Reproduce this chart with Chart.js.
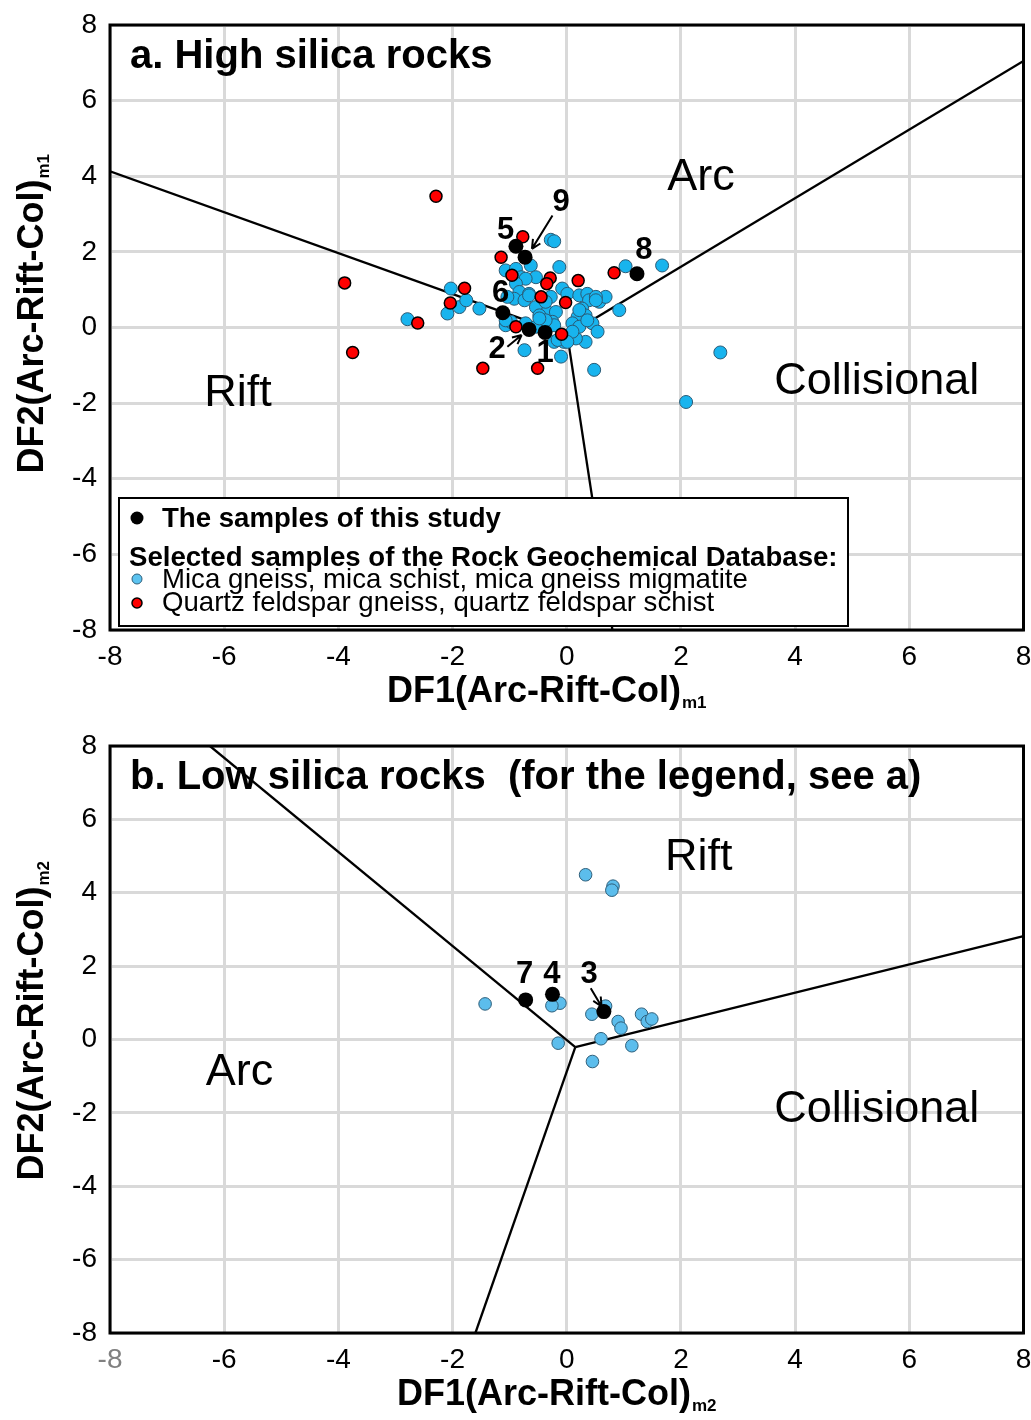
<!DOCTYPE html>
<html>
<head>
<meta charset="utf-8">
<script src="https://cdn.jsdelivr.net/npm/chart.js@4.4.0/dist/chart.umd.min.js"></script>
<style>
  html, body { margin: 0; padding: 0; background: #fff; }
  canvas { display: block; }
</style>
</head>
<body>
<canvas id="chartA" width="1031" height="712"></canvas>
<canvas id="chartB" width="1031" height="708"></canvas>
<script>
// ---- shared axis ticks ----
const tickValues = [-8, -6, -4, -2, 0, 2, 4, 6, 8];

// ---- panel a: high silica rocks ----
const aSamples = [[-0.89, 2.15], [-0.73, 1.86], [1.23, 1.42], [-1.12, 0.39], [-0.66, -0.05], [-0.38, -0.13]];
const aSampleNames = ['5', '9', '8', '6', '2', '1'];
const aMica = [
  [-0.28, 2.32], [-0.22, 2.28], [-0.13, 1.60], [1.03, 1.62], [1.67, 1.64], [-0.63, 1.64], [-1.07, 1.51],
  [-0.89, 1.55], [-0.80, 1.33], [-0.54, 1.33], [-0.72, 1.29], [-0.89, 1.16], [-0.83, 0.94], [-0.92, 0.76],
  [-0.66, 0.89], [-0.28, 0.81], [-0.08, 1.03], [0.01, 0.89], [0.22, 0.85], [0.36, 0.89], [0.39, 0.72],
  [0.57, 0.68], [0.68, 0.81], [0.92, 0.46], [0.27, 0.50], [0.33, 0.32], [0.19, 0.28], [0.10, 0.11],
  [0.45, 0.11], [0.54, -0.11], [0.33, -0.38], [0.16, -0.29], [0.48, -1.12], [-0.10, -0.77], [-0.22, -0.38],
  [-0.05, -0.38], [-0.74, -0.60], [-0.54, 0.54], [-0.34, 0.41], [-0.48, 0.32], [-0.19, 0.41], [-0.25, 0.15],
  [-1.07, 0.06], [-0.98, 0.15], [-0.22, 0.06], [-0.37, 0.68], [-1.53, 0.50], [-1.88, 0.54], [-2.03, 1.03],
  [-1.76, 0.72], [-2.09, 0.37], [-2.79, 0.22], [-1.04, 0.81], [2.69, -0.66], [2.09, -1.97],
  [0.51, 0.81], [0.22, 0.46], [0.51, 0.72], [0.22, 0.02], [0.36, 0.19], [0.10, -0.11], [-0.16, -0.33],
  [0.01, -0.38], [-1.07, 0.19], [-0.72, 0.11], [-0.54, 0.02], [-0.37, 0.19], [-0.74, 0.72], [-0.48, 0.24],
  [-0.66, 0.85]
];
const aQuartz = [
  [-2.29, 3.47], [-0.77, 2.40], [-1.15, 1.86], [-0.96, 1.38], [-0.29, 1.31], [-0.35, 1.16], [0.20, 1.24],
  [0.83, 1.45], [-1.79, 1.04], [-2.04, 0.65], [-0.45, 0.81], [-0.02, 0.66], [-2.61, 0.12], [-0.89, 0.02],
  [-0.09, -0.18], [-1.47, -1.08], [-0.51, -1.08], [-3.89, 1.18], [-3.75, -0.66]
];
// field boundaries, panel a
const aBoundLeft = [[-8, 4.13], [0.01, -0.2]];
const aBoundRight = [[0.01, -0.2], [8, 7.05]];
const aBoundDown = [[0.01, -0.2], [0.8, -8]];

// ---- panel b: low silica rocks ----
const bSamples = [[-0.72, 1.08], [-0.25, 1.23], [0.65, 0.76]];
const bSampleNames = ['7', '4', '3'];
const bMica = [
  [0.33, 4.49], [0.81, 4.18], [0.79, 4.07], [-1.43, 0.97], [-0.12, 0.99], [-0.26, 0.92], [0.68, 0.91],
  [0.44, 0.69], [0.90, 0.49], [0.95, 0.31], [1.31, 0.69], [1.41, 0.49], [1.49, 0.56], [0.60, 0.02],
  [-0.15, -0.10], [1.14, -0.17], [0.45, -0.60]
];
const bBoundUp = [[-6.25, 8], [0.15, -0.21]];
const bBoundDown = [[0.15, -0.21], [-1.60, -8]];
const bBoundRight = [[0.15, -0.21], [8, 2.82]];

// ---- annotation layout (text placed in data units) ----
const FONT = "'Liberation Sans', Arial, Helvetica, sans-serif";
const aRegions = [{ text: 'Arc', x: 2.35, y: 3.97 }, { text: 'Rift', x: -5.76, y: -1.74 }, { text: 'Collisional', x: 5.43, y: -1.42 }];
const bRegions = [{ text: 'Rift', x: 2.31, y: 4.95 }, { text: 'Arc', x: -5.73, y: -0.91 }, { text: 'Collisional', x: 5.43, y: -1.92 }];
const aLabelPos = [[-1.07, 2.56], [-0.10, 3.30], [1.35, 2.03], [-1.16, 0.89], [-1.22, -0.59], [-0.38, -0.69]];
const bLabelPos = [[-0.74, 1.76], [-0.26, 1.76], [0.39, 1.76]];
const aArrows = [[[-0.25, 2.96], [-0.61, 2.08]], [[-1.04, -0.51], [-0.79, -0.20]]];
const bArrows = [[[0.42, 1.40], [0.61, 0.90]]];

const toXY = arr => arr.map(p => ({ x: p[0], y: p[1] }));

function boundary(pts) {
  return {
    data: toXY(pts), showLine: true, borderColor: '#000', borderWidth: 2.3,
    pointRadius: 0, fill: false, order: 5
  };
}

function drawArrow(ctx, x1, y1, x2, y2) {
  const ang = Math.atan2(y2 - y1, x2 - x1);
  ctx.beginPath();
  ctx.moveTo(x1, y1);
  ctx.lineTo(x2, y2);
  ctx.moveTo(x2, y2);
  ctx.lineTo(x2 - 10 * Math.cos(ang - 0.45), y2 - 10 * Math.sin(ang - 0.45));
  ctx.moveTo(x2, y2);
  ctx.lineTo(x2 - 10 * Math.cos(ang + 0.45), y2 - 10 * Math.sin(ang + 0.45));
  ctx.stroke();
}

function drawAxisTitle(ctx, main, sub, px, py, rotate) {
  ctx.save();
  ctx.translate(px, py);
  if (rotate) ctx.rotate(-Math.PI / 2);
  ctx.textAlign = 'left';
  ctx.textBaseline = 'alphabetic';
  ctx.font = 'bold 36px ' + FONT;
  ctx.fillText(main, 0, 0);
  const w = ctx.measureText(main).width;
  ctx.font = 'bold 17px ' + FONT;
  ctx.fillText(sub, w + 1, 6);
  ctx.restore();
}

function drawLegend(ctx, a) {
  const L = a.left + 9, T = a.bottom - 132, R = 848, B = a.bottom - 4;
  ctx.fillStyle = '#fff';
  ctx.fillRect(L, T, R - L, B - T);
  ctx.strokeStyle = '#000';
  ctx.lineWidth = 2;
  ctx.strokeRect(L, T, R - L, B - T);
  const dot = (cx, cy, r, fill, stroke, lw) => {
    ctx.beginPath();
    ctx.arc(cx, cy, r, 0, Math.PI * 2);
    ctx.fillStyle = fill;
    ctx.fill();
    if (stroke) { ctx.lineWidth = lw; ctx.strokeStyle = stroke; ctx.stroke(); }
  };
  dot(L + 18, T + 20, 6.5, '#000');
  dot(L + 18, T + 81, 5, '#5cc3f0', '#2f5f7a', 1);
  dot(L + 18, T + 105, 5, '#ff0000', '#000', 1.5);
  ctx.fillStyle = '#000';
  ctx.textAlign = 'left';
  ctx.textBaseline = 'alphabetic';
  ctx.font = 'bold 27.6px ' + FONT;
  ctx.fillText('The samples of this study', L + 43, T + 29);
  ctx.fillText('Selected samples of the Rock Geochemical Database:', L + 10, T + 68);
  ctx.font = '27.6px ' + FONT;
  ctx.fillText('Mica gneiss, mica schist, mica gneiss migmatite', L + 43, T + 90);
  ctx.fillText('Quartz feldspar gneiss, quartz feldspar schist', L + 43, T + 113);
}

const decorPlugin = {
  id: 'decor',
  afterDatasetsDraw(chart) {
    const { ctx, chartArea: a, scales: { x, y } } = chart;
    const p = chart.options.plugins.decor;
    ctx.save();
    ctx.fillStyle = '#000';
    ctx.strokeStyle = '#000';

    // panel title
    ctx.font = 'bold 40px ' + FONT;
    ctx.textAlign = 'left';
    ctx.textBaseline = 'alphabetic';
    ctx.fillText(p.title, a.left + 20, a.top + 43);

    // field names
    ctx.font = '45px ' + FONT;
    ctx.textAlign = 'center';
    ctx.textBaseline = 'middle';
    p.regions.forEach(r => ctx.fillText(r.text, x.getPixelForValue(r.x), y.getPixelForValue(r.y)));

    // sample numbers and arrows
    ctx.font = 'bold 31px ' + FONT;
    p.names.forEach((t, i) => ctx.fillText(t, x.getPixelForValue(p.labelPos[i][0]), y.getPixelForValue(p.labelPos[i][1])));
    ctx.lineWidth = 2;
    p.arrows.forEach(ar => drawArrow(ctx,
      x.getPixelForValue(ar[0][0]), y.getPixelForValue(ar[0][1]),
      x.getPixelForValue(ar[1][0]), y.getPixelForValue(ar[1][1])));

    if (p.legend) drawLegend(ctx, a);

    // frame
    ctx.strokeStyle = '#000';
    ctx.lineWidth = 3;
    ctx.strokeRect(a.left, a.top, a.right - a.left, a.bottom - a.top);

    // axis titles
    ctx.fillStyle = '#000';
    const cy = (a.top + a.bottom) / 2;
    drawAxisTitle(ctx, 'DF1(Arc-Rift-Col)', p.sub, a.left + p.xTitleOffset, a.bottom + 72, false);
    drawAxisTitle(ctx, 'DF2(Arc-Rift-Col)', p.sub, 43, cy + p.yTitleOffset, true);
    ctx.restore();
  }
};

function scales(xAxisHeight) {
  const grid = { color: '#d9d9d9', lineWidth: 3, drawTicks: false };
  const font = { family: FONT, size: 28 };
  return {
    x: {
      type: 'linear', min: -8, max: 8,
      afterBuildTicks: s => { s.ticks = tickValues.map(v => ({ value: v })); },
      ticks: { font, color: c => (c.index === 0 && xAxisHeight > 84 ? '#808080' : '#000'), padding: 10, maxRotation: 0, autoSkip: false },
      grid, border: { display: false },
      afterFit: s => { s.height = xAxisHeight; s.paddingLeft = 0; s.paddingRight = 0; }
    },
    y: {
      type: 'linear', min: -8, max: 8,
      afterBuildTicks: s => { s.ticks = tickValues.map(v => ({ value: v })); },
      ticks: { font, color: '#000', padding: 13 },
      grid, border: { display: false },
      afterFit: s => { s.width = 110; s.paddingTop = 0; s.paddingBottom = 0; }
    }
  };
}

const pointBlack = { backgroundColor: '#000', borderColor: '#000', borderWidth: 0, pointRadius: 7.5, order: 0 };

// ---- chart a ----
new Chart(document.getElementById('chartA'), {
  type: 'scatter',
  data: {
    datasets: [
      Object.assign({ data: toXY(aSamples) }, pointBlack),
      { data: toXY(aQuartz), backgroundColor: '#ff0000', borderColor: '#000', borderWidth: 1.5, pointRadius: 6, order: 1 },
      { data: toXY(aMica), backgroundColor: '#18b4ee', borderColor: '#2a5a75', borderWidth: 1, pointRadius: 6.5, order: 2 },
      boundary(aBoundLeft), boundary(aBoundRight), boundary(aBoundDown)
    ]
  },
  options: {
    responsive: false, animation: false, events: [],
    layout: { padding: { top: 25, right: 7, left: 0, bottom: 0 } },
    scales: scales(82),
    plugins: {
      legend: { display: false }, tooltip: { enabled: false },
      decor: {
        title: 'a. High silica rocks', regions: aRegions, names: aSampleNames,
        labelPos: aLabelPos, arrows: aArrows, legend: true, sub: 'm1',
        xTitleOffset: 277, yTitleOffset: 146
      }
    }
  },
  plugins: [decorPlugin]
});

// ---- chart b ----
new Chart(document.getElementById('chartB'), {
  type: 'scatter',
  data: {
    datasets: [
      Object.assign({ data: toXY(bSamples) }, pointBlack),
      { data: toXY(bMica), backgroundColor: '#5cbdec', borderColor: '#2f5f7a', borderWidth: 1, pointRadius: 6.3, order: 2 },
      boundary(bBoundUp), boundary(bBoundDown), boundary(bBoundRight)
    ]
  },
  options: {
    responsive: false, animation: false, events: [],
    layout: { padding: { top: 34, right: 7, left: 0, bottom: 0 } },
    scales: scales(87),
    plugins: {
      legend: { display: false }, tooltip: { enabled: false },
      decor: {
        title: 'b. Low silica rocks  (for the legend, see a)', regions: bRegions, names: bSampleNames,
        labelPos: bLabelPos, arrows: bArrows, legend: false, sub: 'm2',
        xTitleOffset: 287, yTitleOffset: 141
      }
    }
  },
  plugins: [decorPlugin]
});
</script>
</body>
</html>
